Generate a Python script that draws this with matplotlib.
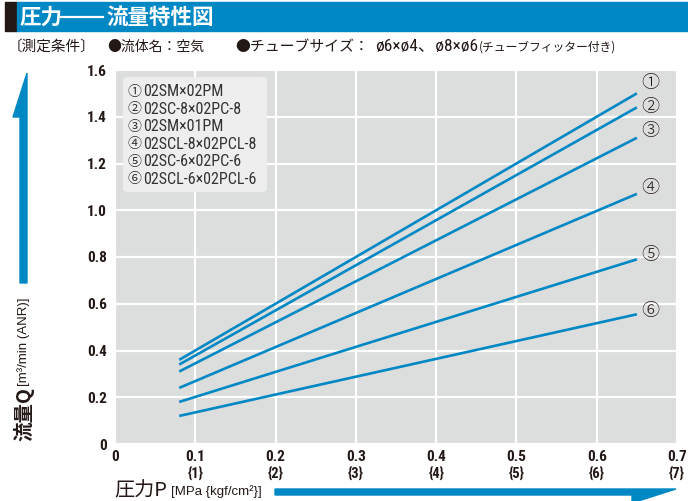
import numpy as np
import matplotlib.pyplot as plt
from matplotlib import font_manager
from matplotlib.patches import Polygon, Rectangle, FancyBboxPatch

# データ（圧力 MPa → 流量 m3/min）
pressure = [0.08, 0.65]
flow_1 = [0.36, 1.50]
flow_2 = [0.34, 1.44]
flow_3 = [0.31, 1.31]
flow_4 = [0.24, 1.07]
flow_5 = [0.18, 0.79]
flow_6 = [0.12, 0.555]
series = [flow_1, flow_2, flow_3, flow_4, flow_5, flow_6]
marks = ['①', '②', '③', '④', '⑤', '⑥']
names = ['02SM×02PM', '02SC-8×02PC-8', '02SM×01PM',
         '02SCL-8×02PCL-8', '02SC-6×02PC-6', '02SCL-6×02PCL-6']
x_ticks = [0, 0.1, 0.2, 0.3, 0.4, 0.5, 0.6, 0.7]
x_kgf = ['', '{1}', '{2}', '{3}', '{4}', '{5}', '{6}', '{7}']
y_ticks = [0, 0.2, 0.4, 0.6, 0.8, 1.0, 1.2, 1.4, 1.6]

BLUE = '#0088c4'
DARK = '#231815'
GRAY = '#dcdddd'
W, H = 688, 501

# 細めの欧文フォントを探す
available = {f.name for f in font_manager.fontManager.ttflist}
narrow = 'Liberation Sans'
for cand in ['Roboto Condensed', 'Liberation Sans Narrow', 'Roboto']:
    if cand in available:
        narrow = cand
        break
LAT = [narrow, 'Noto Sans CJK JP', 'DejaVu Sans']
WIDE = ['Liberation Sans', 'DejaVu Sans']
JP = ['Noto Sans CJK JP', 'DejaVu Sans']
plt.rcParams['font.family'] = LAT


def fx(px):
    return px / W


def fy(py):
    return 1 - py / H


fig = plt.figure(figsize=(W / 100, H / 100), dpi=100)
ax = fig.add_axes([fx(115), fy(444), (677 - 115) / W, (444 - 70) / H])
ax.set_facecolor(GRAY)
for s in ax.spines.values():
    s.set_visible(False)
ax.set_xlim(0, 0.7)
ax.set_ylim(0, 1.6)
ax.set_xticks(x_ticks)
ax.set_yticks(y_ticks)
ax.set_xticklabels(['0' if v == 0 else f'{v:.1f}' for v in x_ticks],
                   fontsize=11, fontweight='bold', color=DARK)
ax.set_yticklabels(['0' if v == 0 else f'{v:.1f}' for v in y_ticks],
                   fontsize=11, fontweight='bold', color=DARK)
ax.tick_params(axis='x', length=0, pad=4)
ax.tick_params(axis='y', length=0, pad=6)
ax.grid(True, color='white', linewidth=1.6)
ax.set_axisbelow(True)

for lbl, v in zip(x_kgf, x_ticks):
    ax.text(v, -0.08, lbl, ha='center', va='center', fontsize=10.5,
            fontweight='semibold', color=DARK,
            transform=ax.get_xaxis_transform(), clip_on=False)

# 特性線
label_dy = [0.045, 0.0, 0.03, 0.025, 0.02, 0.015]
for ys, m, dy in zip(series, marks, label_dy):
    ax.plot(pressure, ys, color=BLUE, linewidth=1.9, solid_capstyle='butt')
    ax.text(0.667, ys[-1] + dy, m, ha='center', va='center', fontsize=13,
            color=DARK, family=JP, fontweight='light')

# 凡例ボックス
box = FancyBboxPatch((fx(123), fy(192)), (267 - 123) / W, (192 - 77) / H,
                     boxstyle='round,pad=0,rounding_size=0.008',
                     transform=fig.transFigure, facecolor='#eeeeee',
                     edgecolor='none', zorder=5)
fig.patches.append(box)
for i, (m, n) in enumerate(zip(marks, names)):
    fig.text(fx(127), fy(92 + i * 17.4), m, ha='left', va='center',
             fontsize=10, color='#333333', family=JP, zorder=6)
    fig.text(fx(143), fy(92 + i * 17.4), n, ha='left', va='center',
             fontsize=11.5, color='#333333', zorder=6)

# タイトルバー
fig.patches.append(Rectangle((fx(5), fy(31)), fx(12), 29 / H,
                             transform=fig.transFigure, color=DARK))
fig.patches.append(Rectangle((fx(17), fy(31)), fx(W - 17), 29 / H,
                             transform=fig.transFigure, color=BLUE))
fig.text(fx(20), fy(17), '圧力', ha='left', va='center',
         fontsize=15.5, fontweight='bold', color='white', family=JP)
fig.add_artist(plt.Line2D([fx(61), fx(103)], [fy(16.5), fy(16.5)],
                          color='white', linewidth=1.6))
fig.text(fx(106), fy(17), '流量特性図', ha='left', va='center',
         fontsize=15.5, fontweight='bold', color='white', family=JP)

# 測定条件
fig.text(fx(8), fy(47), '〔測定条件〕', ha='left', va='center',
         fontsize=10.5, color=DARK, family=JP)
fig.text(fx(107), fy(47), '●流体名：空気', ha='left', va='center',
         fontsize=10, color=DARK, family=JP)
fig.text(fx(235), fy(47), '●チューブサイズ：', ha='left', va='center',
         fontsize=10.7, color=DARK, family=JP)
fig.text(fx(375), fy(47), 'ø6×ø4、ø8×ø6', ha='left', va='center',
         fontsize=12.5, color=DARK)
fig.text(fx(479), fy(47.5), '(チューブフィッター付き)', ha='left', va='center',
         fontsize=8.5, color=DARK, family=JP)

# 縦軸ラベルと矢印
fig.text(fx(24), fy(441), '流量Q', ha='center', va='bottom', rotation=90,
         fontsize=14, fontweight='bold', color=DARK, family=JP)
fig.text(fx(24), fy(386), '[m³/min (ANR)]', ha='center', va='bottom',
         rotation=90, fontsize=9.5, color=DARK, family=WIDE)
fig.patches.append(Polygon([(fx(20), fy(283)), (fx(27), fy(283)), (fx(27), fy(73)),
                            (fx(13), fy(117)), (fx(20), fy(117))],
                           closed=True, transform=fig.transFigure, color=BLUE))

# 横軸ラベルと矢印
fig.text(fx(114), fy(491), '圧力P', ha='left', va='center',
         fontsize=14.5, color=DARK, family=JP)
fig.text(fx(171), fy(492), '[MPa {kgf/cm²}]', ha='left', va='center',
         fontsize=9.5, color=DARK, family=WIDE)
fig.patches.append(Polygon([(fx(275), fy(489)), (fx(676), fy(489)), (fx(632), fy(503)),
                            (fx(632), fy(495)), (fx(275), fy(495))],
                           closed=True, transform=fig.transFigure, color=BLUE))

fig.savefig('out.png', dpi=100, facecolor='white')
